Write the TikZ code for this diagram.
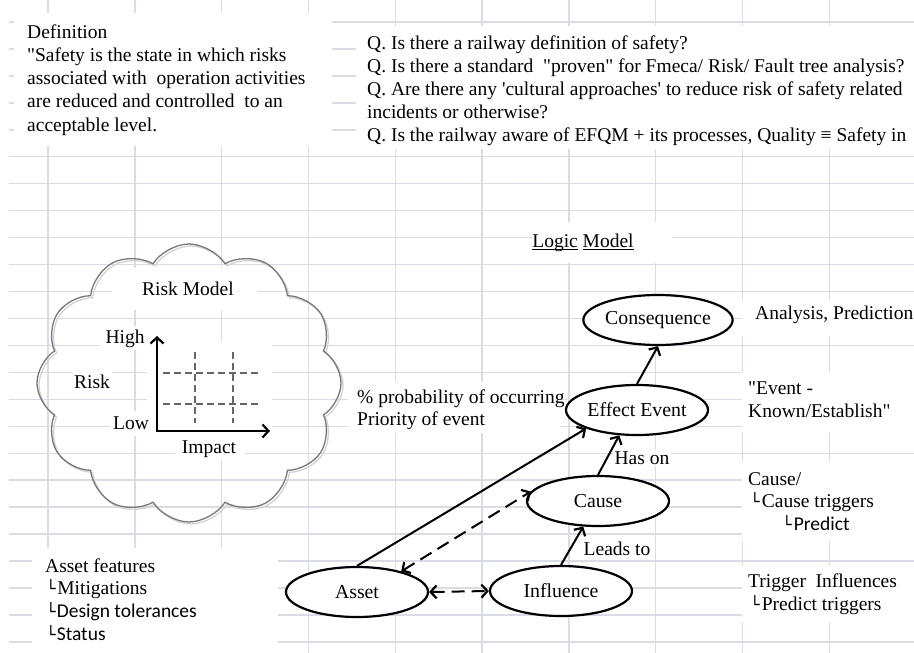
\documentclass[tikz,border=0pt]{standalone}
\usepackage{fontspec}
\setmainfont{Liberation Serif}
\newfontfamily\plainserif{Liberation Serif}
\newfontfamily\calib{Carlito}
\newfontfamily\dejavu{DejaVu Sans}
\usetikzlibrary{shapes.geometric,shapes.symbols,arrows.meta}
\definecolor{gridc}{RGB}{217,220,228}
\definecolor{cloudc}{RGB}{120,120,120}
\newcommand\bxl{{\dejavu\fontsize{16}{16}\selectfont └}}
\newcommand\myul[1]{\setbox0\hbox{#1}\rlap{\rule[-2.5pt]{\wd0}{1pt}}\box0\relax}
\tikzset{
  gridline/.style={gridc, line width=1.4pt},
  txt/.style={font=\plainserif\fontsize{19.5}{23}\selectfont, inner sep=0pt, text=black, anchor=base west},
  ctxt/.style={txt, anchor=base},
  ell/.style={ellipse, draw=black, line width=2.2pt, fill=white, minimum width=142pt, minimum height=50pt, inner sep=0pt, font=\plainserif\fontsize{19.8}{23}\selectfont},
  conn/.style={line width=2pt, -{Straight Barb[length=6pt,width=13pt,line width=2.2pt]}},
  dconn/.style={line width=2pt, dash pattern=on 13pt off 7pt, {Straight Barb[length=6pt,width=13pt,line width=2.2pt]}-{Straight Barb[length=6pt,width=13pt,line width=2.2pt]}},
  chartdash/.style={gray!80!black, line width=1.5pt, dash pattern=on 7pt off 4pt},
  cloudbox/.style={cloud, line width=1.3pt, cloud puffs=12, cloud puff arc=115, aspect=1.1, minimum width=304pt, minimum height=278pt},
}
\begin{document}
\begin{tikzpicture}[x=1pt,y=-1pt]
\useasboundingbox (0,0) rectangle (914,653);
\clip (0,0) rectangle (914,653);
% spreadsheet grid
\foreach \k in {0,...,23} \draw[gridline] (9,22+26.95*\k) -- (914,22+26.95*\k);
\foreach \k in {0,...,9} \draw[gridline] (48+86.8*\k,0) -- (48+86.8*\k,653);
% white text boxes
\fill[white] (14,13) rectangle (332,146);
\fill[white] (356,26) rectangle (914,149);
\fill[white] (532,222) rectangle (672,263);
\fill[white] (348,382) rectangle (560,433);
\fill[white] (742,300) rectangle (914,336);
\fill[white] (742,372) rectangle (914,433);
\fill[white] (742,462) rectangle (914,541);
\fill[white] (742,565) rectangle (914,622);
\fill[white] (32,548) rectangle (278,653);
\fill[white] (112,268) rectangle (258,310);
\fill[white] (100,326) rectangle (150,350);
\fill[white] (72,370) rectangle (112,396);
\fill[white] (110,411) rectangle (152,436);
\fill[white] (175,436) rectangle (245,460);
\fill[white] (147,342) rectangle (272,436);
% cloud
\node[cloudbox, draw=gray!35] (cldshadow) at (191,385) {};
\node[cloudbox, draw=cloudc] (cld) at (189,383) {};
% definition
\node[txt] (def0) at (27,38) {Definition};
\node[txt] (def1) at (27,61) {"Safety is the state in which risks};
\node[txt] (def2) at (27,84) {associated with\ \ operation activities};
\node[txt] (def3) at (27,107) {are reduced and controlled\ \ to an};
\node[txt] (def4) at (27,131) {acceptable level.};
% questions
\node[txt] (q1) at (367,49) {Q. Is there a railway definition of safety?};
\node[txt] (q2) at (367,72) {Q. Is there a standard\ \ "proven" for Fmeca/ Risk/ Fault tree analysis?};
\node[txt] (q3) at (367,95) {Q. Are there any 'cultural approaches' to reduce risk of safety related};
\node[txt] (q4) at (367,118) {incidents or otherwise?};
\node[txt] (q5) at (367,141) {Q. Is the railway aware of EFQM + its processes, Quality ≡ Safety in};
% logic model title
\node[ctxt] (lm) at (583,247) {\myul{Logic} \myul{Model}};
% risk model
\node[ctxt] (rm) at (188,295) {Risk Model};
\node[ctxt] (hi) at (125,343) {High};
\node[ctxt] (rk) at (92,388) {Risk};
\node[ctxt] (lo) at (131,429) {Low};
\node[ctxt] (im) at (209,453) {Impact};
\coordinate (org) at (157,431);
\coordinate (ytop) at (157,336);
\coordinate (xend) at (270,431);
\coordinate (h1a) at (163,373); \coordinate (h1b) at (258,373);
\coordinate (h2a) at (163,404); \coordinate (h2b) at (258,404);
\coordinate (v1a) at (195,352); \coordinate (v1b) at (195,423);
\coordinate (v2a) at (233,352); \coordinate (v2b) at (233,423);
\draw[chartdash] (h1a) -- (h1b);
\draw[chartdash] (h2a) -- (h2b);
\draw[chartdash] (v1a) -- (v1b);
\draw[chartdash] (v2a) -- (v2b);
\draw[conn, line width=2.4pt] (org) -- (ytop);
\draw[conn, line width=2.4pt] ([xshift=-1.2pt]org) -- (xend);
% logic model ellipses
\node[ell] (cons) at (658,320) {Consequence};
\node[ell] (ee) at (637,410) {Effect Event};
\node[ell] (cause) at (598,501) {Cause};
\node[ell] (asset) at (357,592) {Asset};
\node[ell] (infl) at (561,591) {Influence};
% connectors
\draw[conn] (asset.north) -- (ee.200);
\draw[conn] (ee.north) -- (cons.south);
\draw[conn] (cause.north) -- (ee.235);
\draw[conn] (infl.north) -- (cause.240);
\draw[dconn] (asset.25) -- (cause.172);
\draw[dconn] (asset.east) -- (infl.west);
% connector labels
\node[ctxt, fill=white, inner sep=1.5pt] (hason) at (642,464) {Has on};
\node[ctxt, fill=white, inner sep=1.5pt] (leads) at (617,555) {Leads to};
% side notes
\node[txt] (p1) at (357,403) {\% probability of occurring};
\node[txt] (p2) at (357,425) {Priority of event};
\node[txt] (anl) at (755,319) {Analysis, Predictions};
\node[txt] (ev1) at (748,394) {"Event -};
\node[txt] (ev2) at (748,417) {Known/Establish"};
\node[txt] (c1) at (748,485) {Cause/};
\node[txt] (c2) at (750,507) {\bxl\hspace{2pt}Cause triggers};
\node[txt] (c3) at (782,530) {\bxl\hspace{2pt}{\calib Predict}};
\node[txt] (t1) at (748,587) {Trigger\ \ Influences};
\node[txt] (t2) at (750,610) {\bxl\hspace{2pt}Predict triggers};
\node[txt] (a1) at (45,572) {Asset features};
\node[txt] (a2) at (46,594) {\bxl\hspace{1.5pt}Mitigations};
\node[txt] (a3) at (46,617) {\bxl\hspace{1pt}{\calib Design tolerances}};
\node[txt] (a4) at (46,640) {\bxl\hspace{1pt}{\calib Status}};
\end{tikzpicture}
\end{document}
